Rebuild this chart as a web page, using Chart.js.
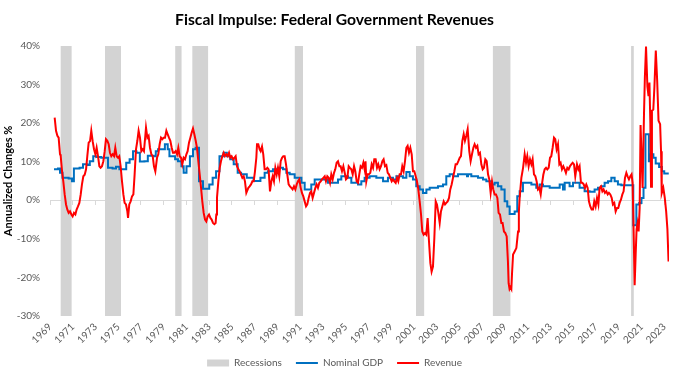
<!DOCTYPE html>
<html><head><meta charset="utf-8">
<script src="https://cdn.jsdelivr.net/npm/chart.js@4.4.1/dist/chart.umd.min.js"></script>
<style>html,body{margin:0;padding:0;background:#fff;}#wrap{width:685px;height:382px;}</style>
</head><body><div id="wrap"><canvas id="c" width="685" height="382"></canvas></div>
<script>
const tickYears = [1969,1971,1973,1975,1977,1979,1981,1983,1985,1987,1989,1991,1993,1995,1997,1999,2001,2003,2005,2007,2009,2011,2013,2015,2017,2019,2021,2023];
const recessionStarts = ['1969-12','1973-11','1980-01','1981-07','1990-07','2001-03','2007-12','2020-02'];
const recessionEnds   = ['1970-11','1975-03','1980-07','1982-11','1991-03','2001-11','2009-06','2020-04'];

// Nominal GDP, annualized % change (step points: date in decimal years, value)
const gdpDates = [1969.35,1969.70,1969.88,1970.10,1970.64,1970.93,1971.10,1971.60,1971.90,1972.30,1972.50,1972.80,1973.10,1973.50,1974.10,1974.50,1974.80,1975.10,1975.70,1976.00,1976.30,1976.60,1976.90,1977.30,1977.60,1978.10,1978.30,1978.50,1979.10,1979.35,1979.50,1980.00,1980.25,1980.55,1980.75,1981.00,1981.30,1981.57,1981.80,1982.10,1982.45,1983.00,1983.30,1983.60,1983.90,1984.25,1984.55,1984.85,1985.15,1985.50,1985.80,1986.30,1986.90,1987.50,1987.87,1988.16,1988.60,1989.04,1989.48,1989.78,1990.07,1990.51,1991.10,1991.39,1991.97,1992.27,1993.44,1994.32,1994.61,1995.20,1995.49,1996.08,1996.37,1996.66,1997.10,1997.69,1998.28,1998.71,1999.15,1999.45,2000.03,2000.33,2000.62,2000.91,2001.20,2001.50,2001.79,2002.09,2002.38,2003.11,2003.55,2003.84,2004.14,2004.43,2004.87,2005.66,2005.75,2006.04,2006.63,2007.07,2007.36,2007.80,2008.09,2008.38,2008.68,2008.97,2009.20,2009.41,2009.85,2010.08,2010.29,2010.58,2011.32,2011.75,2012.05,2012.34,2012.93,2013.81,2014.10,2014.25,2014.68,2014.98,2015.56,2016.00,2016.44,2016.88,2017.18,2017.47,2017.76,2018.06,2018.35,2018.64,2018.93,2019.23,2020.28,2020.55,2020.80,2021.00,2021.18,2021.35,2021.65,2021.78,2022.05,2022.25,2022.55,2022.80,2023.00,2023.40];
const gdpValues = [8.0,8.2,7.1,5.8,5.6,4.9,8.2,8.4,9.3,9.1,10.1,11.4,11.2,11.0,8.4,8.2,8.7,8.0,9.7,10.6,12.7,12.3,10.0,10.1,11.5,11.4,12.7,13.2,14.5,13.2,11.4,10.6,10.1,8.8,7.1,8.8,11.4,13.2,13.6,4.9,3.0,4.1,5.8,7.5,11.4,12.3,11.4,10.6,9.3,7.1,6.7,5.8,5.0,5.8,7.1,7.5,8.0,8.4,8.0,7.1,6.7,5.8,4.5,2.8,4.1,5.4,4.5,5.4,6.2,5.8,4.5,4.1,4.9,5.8,6.2,5.8,4.9,5.8,5.4,6.2,5.8,7.3,6.2,5.4,3.6,2.8,1.9,2.8,3.2,3.6,4.1,6.2,6.7,6.2,6.7,6.2,6.7,6.2,5.8,5.4,4.9,4.1,4.5,3.6,2.8,-0.3,-1.6,-3.6,-2.9,1.0,2.3,4.5,4.1,3.2,4.1,3.6,3.2,4.1,2.8,4.5,3.6,4.5,3.2,2.3,2.2,2.8,3.2,3.6,4.5,4.9,5.8,4.9,4.1,3.9,-6.5,-1.1,-0.7,0.6,3.2,17.1,10.1,11.9,11.0,9.5,8.6,7.5,6.9,6.9];

// Federal government revenue, annualized % change
const revenueDates = [1969.41,1969.53,1969.65,1969.76,1969.88,1969.94,1970.06,1970.17,1970.29,1970.41,1970.52,1970.64,1970.76,1970.88,1970.99,1971.11,1971.23,1971.34,1971.46,1971.58,1971.70,1971.81,1971.93,1972.05,1972.17,1972.28,1972.40,1972.52,1972.63,1972.75,1972.87,1972.99,1973.10,1973.22,1973.34,1973.45,1973.57,1973.69,1973.81,1973.92,1974.04,1974.16,1974.27,1974.39,1974.51,1974.63,1974.74,1974.86,1974.98,1975.09,1975.21,1975.33,1975.45,1975.56,1975.68,1975.80,1975.86,1975.97,1976.09,1976.21,1976.33,1976.44,1976.56,1976.68,1976.79,1976.91,1977.03,1977.15,1977.26,1977.38,1977.44,1977.56,1977.67,1977.79,1977.91,1978.03,1978.14,1978.26,1978.41,1978.52,1978.64,1978.76,1978.88,1978.99,1979.11,1979.23,1979.34,1979.46,1979.58,1979.70,1979.81,1979.93,1980.05,1980.17,1980.28,1980.40,1980.52,1980.63,1980.75,1980.87,1980.99,1981.10,1981.22,1981.34,1981.45,1981.57,1981.69,1981.81,1981.92,1982.04,1982.16,1982.28,1982.39,1982.51,1982.63,1982.74,1982.86,1982.98,1983.10,1983.21,1983.33,1983.45,1983.56,1983.62,1983.68,1983.80,1983.92,1984.03,1984.15,1984.27,1984.38,1984.50,1984.62,1984.74,1984.85,1984.97,1985.09,1985.21,1985.32,1985.44,1985.56,1985.67,1985.79,1985.91,1986.03,1986.14,1986.26,1986.44,1986.55,1986.67,1986.79,1986.91,1987.02,1987.14,1987.20,1987.31,1987.43,1987.52,1987.64,1987.75,1987.87,1987.99,1988.11,1988.22,1988.34,1988.46,1988.58,1988.69,1988.81,1988.93,1989.04,1989.16,1989.28,1989.40,1989.51,1989.63,1989.75,1989.86,1989.98,1990.10,1990.22,1990.33,1990.45,1990.57,1990.69,1990.80,1990.92,1991.04,1991.15,1991.27,1991.39,1991.51,1991.62,1991.74,1991.86,1991.97,1992.09,1992.21,1992.33,1992.44,1992.56,1992.68,1992.80,1992.91,1993.03,1993.15,1993.26,1993.38,1993.50,1993.62,1993.73,1993.85,1993.97,1994.08,1994.20,1994.32,1994.44,1994.55,1994.67,1994.79,1994.91,1995.02,1995.14,1995.26,1995.37,1995.49,1995.61,1995.73,1995.84,1995.96,1996.08,1996.19,1996.31,1996.43,1996.55,1996.66,1996.74,1996.81,1996.93,1997.04,1997.16,1997.28,1997.40,1997.51,1997.63,1997.75,1997.86,1997.98,1998.10,1998.22,1998.33,1998.45,1998.57,1998.69,1998.80,1998.92,1999.04,1999.15,1999.27,1999.39,1999.51,1999.62,1999.74,1999.86,1999.97,2000.09,2000.21,2000.33,2000.44,2000.56,2000.68,2000.80,2000.91,2001.03,2001.15,2001.26,2001.38,2001.50,2001.62,2001.73,2001.85,2001.97,2002.08,2002.20,2002.32,2002.44,2002.55,2002.67,2002.79,2002.91,2003.02,2003.14,2003.26,2003.37,2003.49,2003.61,2003.73,2003.84,2003.96,2004.08,2004.19,2004.31,2004.43,2004.55,2004.66,2004.78,2004.90,2005.02,2005.13,2005.25,2005.37,2005.48,2005.60,2005.72,2005.86,2005.98,2006.10,2006.22,2006.33,2006.45,2006.57,2006.68,2006.80,2006.92,2007.04,2007.15,2007.27,2007.39,2007.51,2007.62,2007.74,2007.86,2007.97,2008.09,2008.21,2008.33,2008.44,2008.56,2008.68,2008.79,2008.91,2009.03,2009.15,2009.26,2009.32,2009.40,2009.48,2009.56,2009.62,2009.71,2009.85,2010.00,2010.10,2010.15,2010.22,2010.29,2010.44,2010.59,2010.73,2010.85,2010.96,2011.08,2011.20,2011.32,2011.43,2011.55,2011.67,2011.78,2011.90,2012.02,2012.14,2012.25,2012.37,2012.49,2012.61,2012.72,2012.84,2012.96,2013.07,2013.19,2013.31,2013.42,2013.54,2013.66,2013.78,2013.89,2014.01,2014.13,2014.25,2014.36,2014.48,2014.60,2014.71,2014.83,2014.95,2015.07,2015.18,2015.33,2015.45,2015.56,2015.68,2015.80,2015.92,2016.03,2016.15,2016.27,2016.38,2016.50,2016.62,2016.74,2016.85,2016.97,2017.09,2017.21,2017.32,2017.44,2017.56,2017.67,2017.79,2017.91,2018.03,2018.14,2018.26,2018.38,2018.49,2018.61,2018.73,2018.85,2018.96,2019.08,2019.20,2019.32,2019.43,2019.55,2019.67,2019.78,2019.90,2020.02,2020.13,2020.22,2020.31,2020.40,2020.49,2020.57,2020.66,2020.75,2020.84,2020.92,2021.00,2021.10,2021.22,2021.30,2021.40,2021.52,2021.62,2021.70,2021.78,2021.84,2021.92,2022.04,2022.14,2022.26,2022.38,2022.50,2022.64,2022.72,2022.78,2022.92,2023.05,2023.17,2023.28,2023.38];
const revenueValues = [21.4,18.0,16.7,16.2,11.9,11.5,7.5,4.9,1.5,-1.1,-2.4,-3.3,-2.9,-3.7,-4.2,-3.3,-3.7,-2.4,-1.6,-0.7,1.5,4.1,6.2,6.6,8.0,11.4,14.9,15.3,18.0,15.3,13.2,11.9,13.6,11.4,8.8,8.4,8.8,10.1,12.7,15.8,15.4,14.5,12.3,11.4,11.9,11.4,13.6,11.4,11.0,11.4,8.8,4.9,1.5,-0.7,-1.1,-2.9,-4.6,-1.1,-0.3,1.0,1.5,6.7,13.2,15.4,18.0,16.2,12.7,13.2,12.7,16.7,18.8,16.2,16.7,13.6,11.9,11.4,8.8,7.5,11.0,11.9,14.5,16.2,15.8,16.2,16.2,18.0,17.1,16.2,15.4,13.6,12.3,12.3,12.7,11.9,13.6,11.4,11.0,9.3,11.0,10.6,11.9,12.7,14.9,16.2,17.5,18.6,17.1,15.4,13.6,10.1,6.7,3.2,-0.3,-3.3,-5.0,-5.5,-4.2,-3.7,-4.6,-5.0,-5.9,-6.2,-5.9,-3.7,0.6,4.9,8.4,10.1,11.4,12.3,11.4,11.9,11.4,12.3,11.0,11.4,10.6,11.0,11.4,8.8,8.0,7.5,6.7,5.8,6.2,4.9,1.9,3.2,3.6,4.1,4.9,4.9,7.5,11.0,14.5,14.5,13.2,12.7,13.9,11.9,8.0,8.0,8.4,8.0,2.3,4.9,6.2,4.9,8.4,6.7,8.4,6.2,10.1,11.0,11.4,11.4,9.3,6.7,4.1,3.6,3.2,2.8,3.6,2.8,4.1,4.9,5.4,3.2,1.9,1.0,-0.3,-1.6,-1.1,0.6,1.9,2.3,0.6,1.9,3.2,4.1,3.2,4.5,4.9,5.4,5.8,6.2,4.9,6.2,5.8,4.5,6.7,5.4,7.1,8.0,9.7,10.1,8.8,8.8,7.5,8.8,7.1,5.4,5.8,8.8,8.4,8.0,6.7,8.8,7.5,4.9,4.5,6.7,8.8,8.4,9.7,8.0,10.1,4.9,6.7,6.7,7.1,9.3,8.4,10.6,10.6,8.4,9.3,8.0,8.8,10.1,10.6,8.8,9.1,7.1,6.7,5.8,4.9,5.4,4.9,4.5,5.8,4.9,6.7,6.7,8.8,7.5,10.1,13.6,14.1,12.3,13.6,11.9,7.5,7.5,6.2,4.9,2.8,-0.3,-3.7,-8.1,-8.9,-8.5,-8.9,-4.6,-10.7,-16.3,-18.5,-17.2,-9.8,-0.3,-1.1,-3.3,-5.9,-2.9,-1.6,-0.3,-1.1,-0.7,-0.3,0.6,2.8,4.1,5.8,7.5,9.3,9.3,10.1,11.0,11.4,15.4,17.1,15.4,16.7,18.4,12.7,10.1,11.9,13.6,14.5,13.6,14.1,11.9,12.3,9.3,8.0,8.4,10.6,10.1,6.7,5.4,1.9,4.9,2.8,1.5,1.5,0.6,-3.3,-3.7,-5.9,-5.9,-8.1,-8.5,-9.4,-15.9,-21.5,-23.0,-22.5,-23.0,-19.0,-14.1,-13.3,-12.4,-9.5,-8.1,-3.0,0.6,5.8,8.4,11.9,9.7,11.4,8.8,10.6,9.3,10.6,6.7,6.2,4.9,2.8,3.2,1.5,4.1,6.6,8.0,8.4,8.0,8.4,11.0,11.4,13.6,16.2,15.8,13.2,14.5,9.3,9.7,8.0,8.8,8.0,7.1,8.4,8.0,8.8,9.3,9.7,9.3,6.2,9.3,8.0,8.8,4.5,4.5,4.1,3.2,4.1,3.2,-0.3,-1.6,-2.4,-2.4,-0.3,-1.6,0.6,-1.1,3.2,3.6,2.3,2.8,1.9,2.3,1.5,1.9,1.5,0.6,-1.1,-0.7,-2.9,-2.0,-2.0,-0.7,0.2,1.5,2.3,5.8,7.1,6.2,5.4,6.2,6.7,4.5,-8.0,-22.0,-14.0,-7.5,-5.9,-8.1,-2.0,19.5,12.0,3.2,22.0,32.0,39.8,29.5,27.0,30.5,20.0,3.5,23.2,23.5,29.5,38.8,31.0,20.6,19.7,12.7,1.8,3.2,0.6,-2.9,-7.5,-15.9];

const FONT = 'Lato, "Open Sans", "DejaVu Sans", sans-serif';
const monthStart = s => { const [y, m] = s.split('-').map(Number); return y + (m - 1) / 12; };
const monthEnd = s => { const [y, m] = s.split('-').map(Number); return y + m / 12; };
const X_MIN = 1969, X_MAX = 2023.42;

const recessionSets = recessionStarts.map((s, i) => ({
  type: 'line',
  label: 'Recessions',
  data: [{x: monthStart(s), y: 40}, {x: monthEnd(recessionEnds[i]), y: 40}],
  fill: {value: -30},
  backgroundColor: '#d3d3d3',
  borderColor: 'rgba(0,0,0,0)',
  borderWidth: 0,
  pointRadius: 0,
  pointStyle: 'rect',
  order: 3
}));

const setTicks = s => { s.ticks = tickYears.map(v => ({value: v})); };

new Chart(document.getElementById('c'), {
  type: 'line',
  data: {
    datasets: [
      ...recessionSets,
      {
        label: 'Nominal GDP',
        data: gdpDates.map((t, i) => ({x: t, y: gdpValues[i]})),
        borderColor: '#0070c0', backgroundColor: '#0070c0',
        borderWidth: 2, pointRadius: 0, stepped: true, pointStyle: 'line', order: 2
      },
      {
        label: 'Revenue',
        data: revenueDates.map((t, i) => ({x: t, y: revenueValues[i]})),
        borderColor: '#ff0000', backgroundColor: '#ff0000',
        borderWidth: 2, pointRadius: 0, tension: 0, pointStyle: 'line', order: 1
      }
    ]
  },
  options: {
    responsive: false, animation: false, devicePixelRatio: 1,
    layout: {padding: {left: 0, right: 16, top: 0, bottom: 4}},
    scales: {
      x: {
        type: 'linear', min: X_MIN, max: X_MAX, position: 'bottom',
        grid: {display: false, drawTicks: false}, border: {display: false},
        afterBuildTicks: setTicks,
        afterFit: s => { s.height = 28; },
        ticks: {color: '#595959', font: {family: FONT, size: 10}, minRotation: 45, maxRotation: 45, padding: 5, autoSkip: false, callback: v => String(v)}
      },
      xZero: {
        type: 'linear', min: X_MIN, max: X_MAX, position: {y: 0},
        afterBuildTicks: setTicks,
        grid: {display: true, drawOnChartArea: false, drawTicks: true, tickLength: 4, color: '#d9d9d9'},
        border: {display: true, color: '#d9d9d9', width: 1},
        ticks: {display: false}
      },
      y: {
        min: -30, max: 40,
        afterFit: s => { s.width = 50; },
        grid: {display: false, drawTicks: false}, border: {display: false},
        ticks: {stepSize: 10, color: '#595959', font: {family: FONT, size: 10}, padding: 10, callback: v => v + '%'},
        title: {display: true, text: 'Annualized Changes %', color: '#000', font: {family: FONT, size: 11, weight: 'bold'}, padding: {top: 2, bottom: 0}}
      }
    },
    plugins: {
      title: {display: true, text: 'Fiscal Impulse: Federal Government Revenues', color: '#000', font: {family: FONT, size: 15.7, weight: 'bold'}, padding: {top: 11, bottom: 16}},
      legend: {
        position: 'bottom',
        labels: {
          usePointStyle: true, pointStyleWidth: 22, boxHeight: 7, padding: 14,
          color: '#595959', font: {family: FONT, size: 10},
          sort: (a, b) => a.datasetIndex - b.datasetIndex,
          filter: (item) => !(item.text === 'Recessions' && item.datasetIndex > 0)
        }
      },
      tooltip: {enabled: false}
    }
  }
});
</script></body></html>
